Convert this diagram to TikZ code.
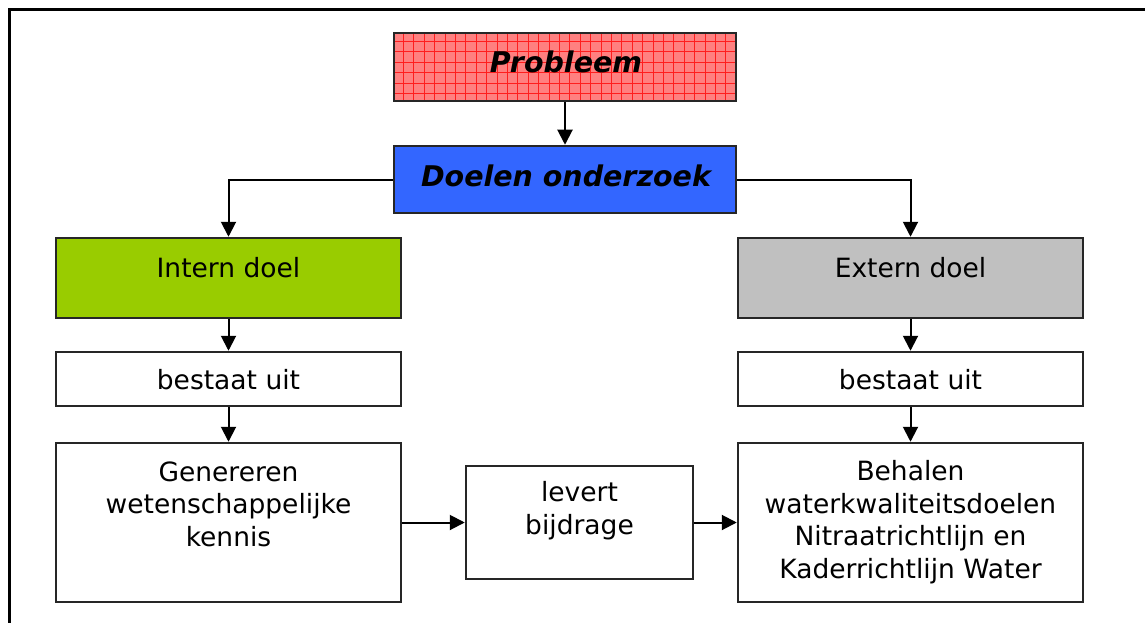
\documentclass[tikz,border=0pt]{standalone}
\usepackage{fontspec}
\setmainfont{DejaVu Sans}
\usetikzlibrary{arrows.meta}

\definecolor{probred}{RGB}{255,128,128}
\definecolor{gridred}{RGB}{255,30,30}
\definecolor{doelblue}{RGB}{51,102,255}
\definecolor{interngreen}{RGB}{153,204,0}
\definecolor{externgray}{RGB}{192,192,192}

\tikzset{
  box/.style 2 args={draw=black!85, line width=2.5pt, inner sep=0pt,
    minimum width=#1, minimum height=#2},
  lbl/.style={inner sep=0pt, anchor=base, align=center,
    font=\fontsize{26.5}{32.5}\selectfont},
  title/.style={inner sep=0pt, anchor=base,
    font=\fontsize{28.5}{33}\selectfont\bfseries\itshape},
  conn/.style={line width=2pt, -{Triangle[length=15pt,width=15pt]}},
  % red grid drawn inside the box, coordinates relative to its centre
  probgrid/.style={path picture={
    \foreach \gx in {-161.5,-151.1,...,180}
      \draw[gridred, line width=0.9pt] (\gx,-40) -- (\gx,40);
    \foreach \gy in {-26,-15.5,...,40}
      \draw[gridred, line width=0.9pt] (-180,\gy) -- (180,\gy);}}
}

\begin{document}
\begin{tikzpicture}[x=1pt,y=-1pt]
  \useasboundingbox (0,0) rectangle (1145,623);
  \fill[white] (0,0) rectangle (1145,623);

  % frame around the whole scheme
  \draw[line width=3pt] (1160,9.5) -- (9.5,9.5) -- (9.5,640);

  % boxes
  \node[box={342}{68}, fill=probred, probgrid] (prob) at (565,67) {};
  \node[box={342}{67}, fill=doelblue] (doel) at (565,179.5) {};
  \node[box={345}{80}, fill=interngreen] (intern) at (228.5,278) {};
  \node[box={345}{80}, fill=externgray] (extern) at (910.5,278) {};
  \node[box={345}{54}, fill=white] (bestL) at (228.5,379) {};
  \node[box={345}{54}, fill=white] (bestR) at (910.5,379) {};
  \node[box={345}{159}, fill=white] (gen) at (228.5,522.5) {};
  \node[box={345}{159}, fill=white] (beh) at (910.5,522.5) {};
  \node[box={227}{113}, fill=white] (lev) at (579.5,522.5) {};

  % texts (base = baseline of the last line)
  \node[title] (prob-t) at (566,73) {Probleem};
  \node[title] (doel-t) at (566,186.7) {Doelen onderzoek};
  \node[lbl] (intern-t) at (228.5,277) {Intern doel};
  \node[lbl] (extern-t) at (910.5,277) {Extern doel};
  \node[lbl] (bestL-t) at (228.5,389) {bestaat uit};
  \node[lbl] (bestR-t) at (910.5,389) {bestaat uit};
  \node[lbl] (gen-t) at (228.5,546) {Genereren\\wetenschappelijke\\kennis};
  \node[lbl] (beh-t) at (910.5,578) {Behalen\\waterkwaliteitsdoelen\\Nitraatrichtlijn en\\Kaderrichtlijn Water};
  \node[lbl] (lev-t) at (579.5,534) {levert\\bijdrage};

  % connectors
  \draw[conn] (prob) -- (doel);
  \draw[conn] (doel.west) -| (intern.north);
  \draw[conn] (doel.east) -| (extern.north);
  \draw[conn] (intern) -- (bestL);
  \draw[conn] (extern) -- (bestR);
  \draw[conn] (bestL) -- (gen);
  \draw[conn] (bestR) -- (beh);
  \draw[conn] (gen) -- (lev);
  \draw[conn] (lev) -- (beh);
\end{tikzpicture}
\end{document}
